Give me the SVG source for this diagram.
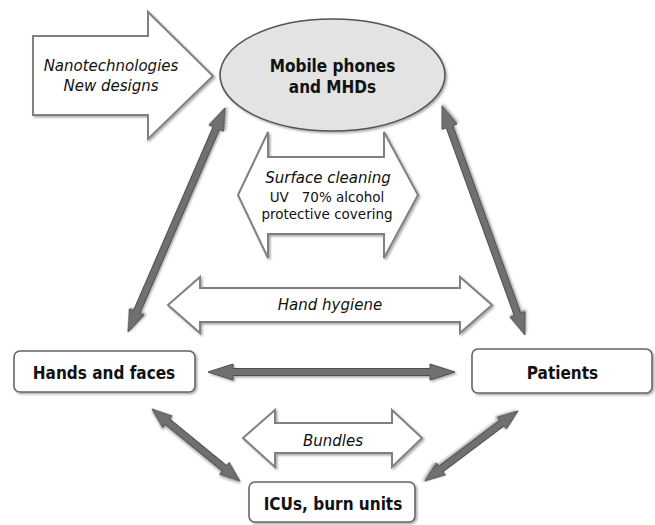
<svg xmlns="http://www.w3.org/2000/svg" width="655" height="525" viewBox="0 0 655 525">
<defs>
<filter id="sh" x="-20%" y="-20%" width="140%" height="140%">
<feDropShadow dx="1.5" dy="1.5" stdDeviation="1.2" flood-color="#000" flood-opacity="0.35"/>
</filter>
</defs>
<style>
.node{fill:#fff;stroke:#666;stroke-width:1.6;filter:url(#sh)}
.open{fill:#fff;stroke:#808080;stroke-width:2;stroke-linejoin:miter;filter:url(#sh)}
.dark{fill:#707070;stroke:#4d4d4d;stroke-width:1;stroke-linejoin:miter;filter:url(#sh)}
.lbl{font-family:"DejaVu Sans Condensed","DejaVu Sans",sans-serif;font-weight:bold;font-size:17px;fill:#111;text-anchor:middle}
.it{font-family:"DejaVu Sans",sans-serif;font-style:italic;font-size:15px;fill:#111;text-anchor:middle}
.sm{font-family:"DejaVu Sans",sans-serif;font-size:13.5px;fill:#111;text-anchor:middle;white-space:pre}
</style>
<rect width="655" height="525" fill="#fff"/>

<g id="nanotechnologies">
<polygon class="open" points="33,36 148,36 148,12 213,76 148,139 148,115 33,115"/>
<text class="it" x="111" y="71">Nanotechnologies</text>
<text class="it" x="111" y="91">New designs</text>
</g>

<g id="mobile-phones">
<ellipse cx="332.5" cy="75" rx="112.5" ry="56" fill="#e3e3e3" stroke="#555" stroke-width="1.6" filter="url(#sh)"/>
<text class="lbl" x="332.5" y="72" font-size="17.5">Mobile phones</text>
<text class="lbl" x="332.5" y="93" font-size="17.5">and MHDs</text>
</g>

<g id="surface-cleaning">
<polygon class="open" points="238,195 268,132 268,157 384,157 384,132 418,195 384,258 384,234 268,234 268,258"/>
<text class="it" x="328" y="183" font-size="16">Surface cleaning</text>
<text class="sm" x="327" y="202">UV   70% alcohol</text>
<text class="sm" x="327" y="219">protective covering</text>
</g>

<g id="hand-hygiene">
<polygon class="open" points="168,305 200,277 200,288 460,288 460,277 492,305 460,333 460,322 200,322 200,333"/>
<text class="it" x="330" y="310">Hand hygiene</text>
</g>

<g id="bundles">
<polygon class="open" points="243,438 275,410 275,423 392,423 392,410 422,438 392,467 392,453 275,453 275,467"/>
<text class="it" x="333" y="446">Bundles</text>
</g>

<g id="hands-and-faces">
<rect class="node" x="14" y="351" width="181" height="41" rx="6"/>
<text class="lbl" x="104" y="379">Hands and faces</text>
</g>

<g id="patients">
<rect class="node" x="472" y="349" width="180" height="44" rx="6"/>
<text class="lbl" x="562.5" y="379">Patients</text>
</g>

<g id="icus">
<rect class="node" x="249" y="482" width="166" height="40" rx="6"/>
<text class="lbl" x="333" y="510">ICUs, burn units</text>
</g>

<g id="connectors">
<polygon class="dark" transform="translate(128,332) rotate(-66.59)" points="0,0 22,-8 22,-3.5 222.1,-3.5 222.1,-8 244.1,0 222.1,8 222.1,3.5 22,3.5 22,8"/>
<polygon class="dark" transform="translate(525,335) rotate(-109.92)" points="0,0 22,-8 22,-3.5 221.6,-3.5 221.6,-8 243.6,0 221.6,8 221.6,3.5 22,3.5 22,8"/>
<polygon class="dark" transform="translate(208,372)" points="0,0 25,-8 25,-3.5 222,-3.5 222,-8 247,0 222,8 222,3.5 25,3.5 25,8"/>
<polygon class="dark" transform="translate(152,409) rotate(39.29)" points="0,0 20,-7.5 20,-3.5 93.7,-3.5 93.7,-7.5 113.7,0 93.7,7.5 93.7,3.5 20,3.5 20,7.5"/>
<polygon class="dark" transform="translate(518,411) rotate(143.03)" points="0,0 20,-7.5 20,-3.5 96.4,-3.5 96.4,-7.5 116.4,0 96.4,7.5 96.4,3.5 20,3.5 20,7.5"/>
</g>
</svg>
